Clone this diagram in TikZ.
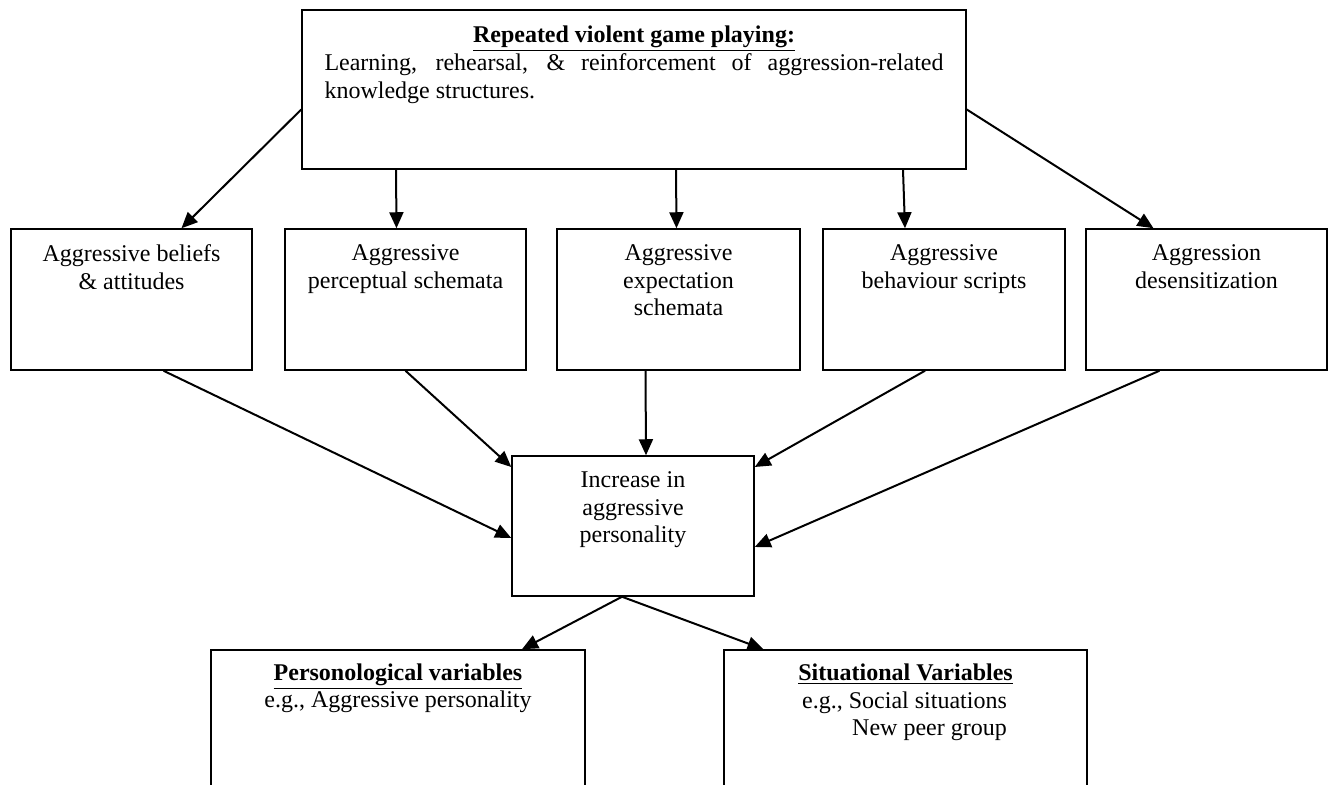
\documentclass[tikz,border=0pt]{standalone}
\usepackage{fontspec}
\setmainfont{Liberation Serif}
\usetikzlibrary{arrows.meta,calc}
\tolerance=10000
\hyphenpenalty=10000

\begin{document}
\begin{tikzpicture}[x=0.5pt,y=-0.5pt,
    box/.style={draw,line width=0.75pt,inner sep=0pt,minimum width=120.5pt,minimum height=70.5pt},
    lbl/.style={anchor=north,inner sep=0pt,align=center,font=\fontsize{12pt}{13.8pt}\selectfont},
    arr/.style={line width=1pt,-{Triangle[length=8pt,width=7pt]}}]
    \useasboundingbox (0,0) rectangle (1328,785);
    \clip (0,0) rectangle (1328,785);
    % game playing
    \node[box,minimum width=332pt,minimum height=79.5pt] (top) at (634,89.5) {};
    \node[lbl] (tt) at ($(top.north)+(0,16)$) {\underline{\textbf{Repeated violent game playing:}}};
    \node[lbl,align=justify,text width=309.5pt] (tb) at ($(top.north)+(0,44)$)
        {Learning, rehearsal, \& reinforcement of aggression-related knowledge structures.};
    % knowledge structures
    \node[box] (b1) at (131.5,299.5) {};
    \node[box] (b2) at (405.5,299.5) {};
    \node[box,minimum width=121.5pt] (b3) at (678.5,299.5) {};
    \node[box,minimum width=121pt] (b4) at (944,299.5) {};
    \node[box] (b5) at (1206.5,299.5) {};
    \node[lbl] (t1) at ($(b1.north)+(0,16)$) {Aggressive beliefs\\\& attitudes};
    \node[lbl] (t2) at ($(b2.north)+(0,16)$) {Aggressive\\perceptual schemata};
    \node[lbl] (t3) at ($(b3.north)+(0,16)$) {Aggressive\\expectation\\schemata};
    \node[lbl] (t4) at ($(b4.north)+(0,16)$) {Aggressive\\behaviour scripts};
    \node[lbl] (t5) at ($(b5.north)+(0,16)$) {Aggression\\desensitization};
    % personality
    \node[box,minimum width=121pt,minimum height=70pt] (mid) at (633,526) {};
    \node[lbl] (tm) at ($(mid.north)+(0,16)$) {Increase in\\aggressive\\personality};
    % variables
    \node[box,minimum width=187pt,minimum height=75pt] (pv) at (398,725) {};
    \node[box,minimum width=181.5pt,minimum height=75pt] (sv) at (905.5,725) {};
    \node[lbl] (tp) at ($(pv.north)+(0,14)$)
        {\underline{\textbf{Personological variables}}\\e.g., Aggressive personality};
    \node[lbl] (ts) at ($(sv.north)+(0,14)$) {\underline{\textbf{Situational Variables}}};
    \node[lbl,align=right] (te) at ($(sv.north)+(-1,42)$) {e.g., Social situations\\New peer group};

    \draw[arr] ($(top.west)+(0,20)$) -- ($(b1.north)+(50,0)$);
    \draw[arr] ($(top.south)+(-238,0)$) -- ($(b2.north)+(-9,0)$);
    \draw[arr] ($(top.south)+(42,0)$) -- ($(b3.north)+(-2,0)$);
    \draw[arr] ($(top.south)+(269,0)$) -- ($(b4.north)+(-39,0)$);
    \draw[arr] ($(top.east)+(0,20)$) -- ($(b5.north)+(-53,0)$);

    \draw[arr] ($(b1.south)+(32,0)$) -- ($(mid.west)+(0,12)$);
    \draw[arr] (b2.south) -- ($(mid.west)+(0,-59)$);
    \draw[arr] ($(b3.south)+(-33,0)$) -- ($(mid.north)+(13,0)$);
    \draw[arr] ($(b4.south)+(-19,0)$) -- ($(mid.east)+(0,-59)$);
    \draw[arr] ($(b5.south)+(-47,0)$) -- ($(mid.east)+(0,21)$);

    \coordinate (fork) at ($(mid.south)+(-11,0)$);
    \draw[arr] (fork) -- ($(pv.north)+(124,0)$);
    \draw[arr] (fork) -- ($(sv.north)+(-142,0)$);
\end{tikzpicture}
\end{document}
